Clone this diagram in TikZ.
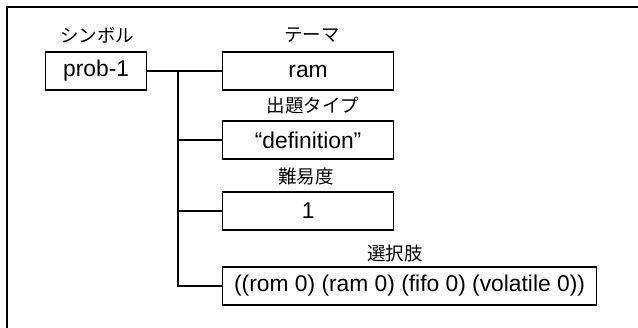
\documentclass[tikz,border=0pt]{standalone}
\usepackage{fontspec}
\setmainfont{Liberation Sans}
\newfontfamily\jpfont{Noto Sans CJK JP}
\begin{document}
\begin{tikzpicture}[x=1pt,y=-1pt,
  valbox/.style={draw,line width=1.2pt,minimum height=38pt,inner sep=0pt,font=\fontsize{22.8}{26}\selectfont,anchor=west},
  lbl/.style={font=\jpfont\fontsize{18.5}{21}\selectfont,inner sep=0pt},
  conn/.style={line width=1.2pt}]
\useasboundingbox (0,0) rectangle (638,328);
\draw[line width=2pt] (7,340) -- (7,7) -- (650,7);
\node[valbox,minimum width=101pt] (sym) at (45,71) {prob-1};
\node[valbox,minimum width=171pt] (theme) at (222,71) {ram};
\node[valbox,minimum width=171pt] (type) at (222,140) {“definition”};
\node[valbox,minimum width=171pt] (diff) at (222,211) {1};
\node[valbox,minimum width=374pt] (choice) at (222,286) {((rom 0) (ram 0) (fifo 0) (volatile 0))};
\node[lbl] (lsym) at (97,35) {シンボル};
\node[lbl] (ltheme) at (312,35) {テーマ};
\node[lbl] (ltype) at (313,106) {出題タイプ};
\node[lbl] (ldiff) at (306,177) {難易度};
\node[lbl] (lchoice) at (395,253) {選択肢};
\coordinate (j1) at (178,71);
\coordinate (j2) at (178,140);
\coordinate (j3) at (178,211);
\coordinate (j4) at (178,286);
\draw[conn] (sym.east) -- (theme.west);
\draw[conn] (j1) -- (j4) -- (choice.west);
\draw[conn] (j2) -- (type.west);
\draw[conn] (j3) -- (diff.west);
\end{tikzpicture}
\end{document}
